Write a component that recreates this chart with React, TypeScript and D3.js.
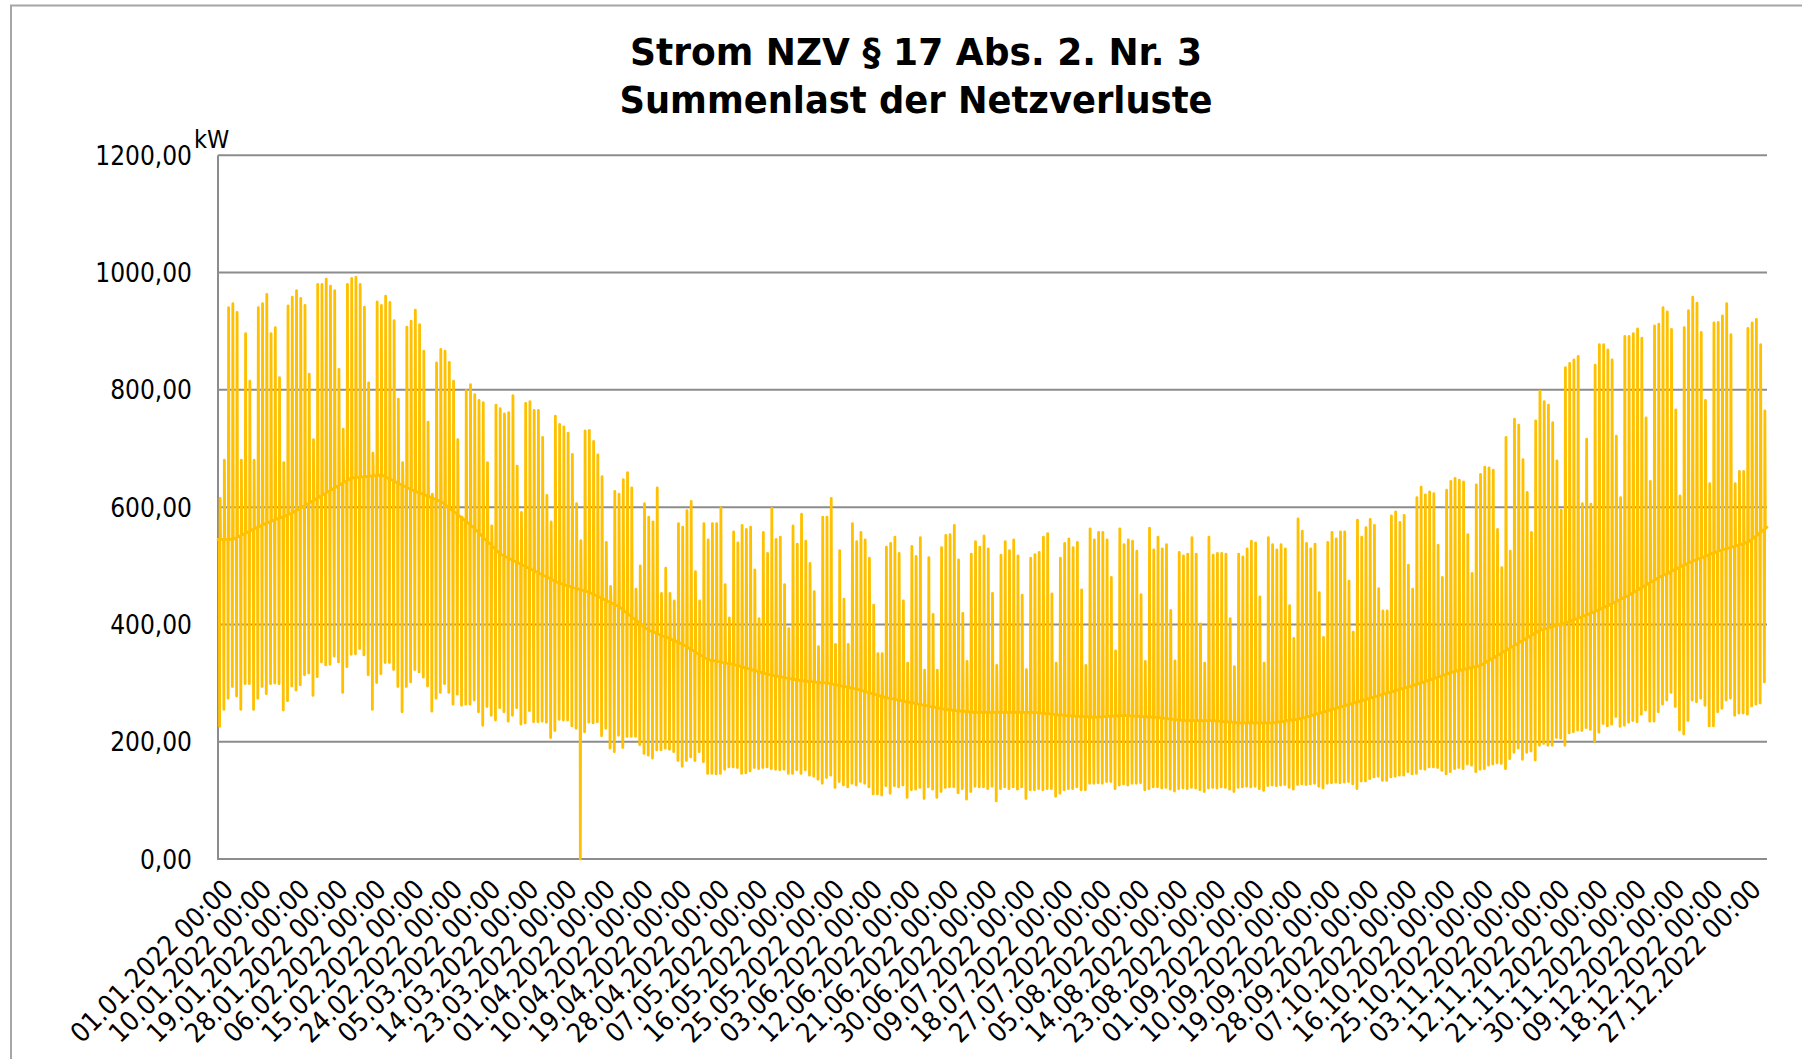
import React from "react";
import * as d3 from "d3";

const titleLines = ["Strom NZV § 17 Abs. 2. Nr. 3", "Summenlast der Netzverluste"];
const unitLabel = "kW";
const yTicks = [0, 200, 400, 600, 800, 1000, 1200];
const xTickLabels = [
  "01.01.2022 00:00", "10.01.2022 00:00", "19.01.2022 00:00", "28.01.2022 00:00",
  "06.02.2022 00:00", "15.02.2022 00:00", "24.02.2022 00:00", "05.03.2022 00:00",
  "14.03.2022 00:00", "23.03.2022 00:00", "01.04.2022 00:00", "10.04.2022 00:00",
  "19.04.2022 00:00", "28.04.2022 00:00", "07.05.2022 00:00", "16.05.2022 00:00",
  "25.05.2022 00:00", "03.06.2022 00:00", "12.06.2022 00:00", "21.06.2022 00:00",
  "30.06.2022 00:00", "09.07.2022 00:00", "18.07.2022 00:00", "27.07.2022 00:00",
  "05.08.2022 00:00", "14.08.2022 00:00", "23.08.2022 00:00", "01.09.2022 00:00",
  "10.09.2022 00:00", "19.09.2022 00:00", "28.09.2022 00:00", "07.10.2022 00:00",
  "16.10.2022 00:00", "25.10.2022 00:00", "03.11.2022 00:00", "12.11.2022 00:00",
  "21.11.2022 00:00", "30.11.2022 00:00", "09.12.2022 00:00", "18.12.2022 00:00",
  "27.12.2022 00:00",
];

// daily peak load in kW, one row per week (Sat .. Fri), starting Sat 01.01.2022
const dailyMax = [
  615, 680, 940, 947, 932, 680, 896,
  815, 680, 940, 947, 963, 896, 906,
  821, 676, 943, 958, 969, 956, 944,
  827, 715, 980, 980, 989, 977, 969,
  835, 733, 980, 990, 992, 980, 941,
  812, 692, 950, 944, 960, 949, 918,
  784, 676, 907, 917, 936, 911, 866,
  745, 622, 846, 869, 866, 847, 815,
  715, 583, 799, 809, 792, 782, 778,
  676, 568, 774, 768, 759, 761, 790,
  670, 591, 777, 780, 765, 765, 719,
  620, 575, 755, 741, 737, 726, 690,
  606, 543, 730, 731, 712, 689, 652,
  540, 465, 627, 622, 647, 659, 633,
  460, 500, 606, 583, 575, 633, 453,
  496, 453, 440, 572, 566, 594, 610,
  490, 440, 572, 544, 572, 572, 599,
  468, 411, 558, 539, 569, 562, 566,
  493, 410, 557, 521, 598, 545, 549,
  468, 393, 568, 537, 588, 542, 504,
  456, 362, 583, 583, 615, 366, 526,
  443, 366, 572, 541, 557, 544, 513,
  433, 350, 350, 532, 538, 549, 521,
  440, 334, 533, 516, 548, 322, 514,
  417, 322, 531, 552, 553, 569, 510,
  419, 337, 520, 541, 532, 551, 529,
  453, 330, 518, 541, 526, 544, 517,
  450, 323, 513, 519, 523, 549, 555,
  452, 334, 513, 538, 546, 531, 540,
  459, 330, 563, 544, 557, 557, 544,
  480, 355, 563, 536, 544, 542, 525,
  451, 337, 564, 527, 549, 529, 536,
  424, 338, 523, 517, 520, 548, 520,
  401, 334, 549, 518, 521, 521, 520,
  410, 328, 520, 515, 529, 542, 539,
  447, 334, 548, 536, 527, 536, 529,
  432, 376, 580, 559, 538, 529, 537,
  454, 378, 540, 557, 546, 558, 558,
  474, 387, 578, 549, 565, 579, 569,
  461, 423, 423, 585, 592, 574, 586,
  501, 460, 616, 634, 621, 626, 623,
  535, 480, 629, 644, 649, 646, 643,
  553, 487, 638, 656, 668, 667, 663,
  562, 497, 719, 525, 750, 740, 681,
  625, 557, 747, 798, 780, 774, 744,
  679, 595, 838, 845, 851, 857, 606,
  716, 605, 842, 877, 877, 868, 851,
  721, 616, 891, 891, 896, 904, 888,
  752, 644, 909, 912, 940, 933, 903,
  766, 619, 906, 935, 958, 948, 898,
  782, 640, 914, 915, 926, 947, 894,
  640, 661, 661, 905, 914, 920, 877,
  764,
];

// daily minimum load in kW (27.03. contains the 0 of the clock change)
const dailyMin = [
  226, 255, 274, 294, 278, 255, 299,
  299, 255, 274, 294, 282, 299, 300,
  299, 254, 270, 295, 288, 297, 314,
  317, 279, 311, 336, 331, 332, 346,
  336, 284, 328, 349, 350, 359, 348,
  314, 255, 301, 316, 335, 335, 323,
  294, 251, 294, 302, 323, 319, 310,
  295, 252, 274, 284, 299, 284, 264,
  281, 262, 264, 264, 271, 251, 228,
  260, 245, 237, 258, 251, 235, 245,
  258, 230, 232, 253, 234, 234, 235,
  233, 207, 219, 238, 237, 237, 227,
  223, 0, 217, 233, 232, 234, 210,
  223, 189, 183, 211, 190, 209, 209,
  209, 195, 180, 177, 172, 186, 186,
  189, 187, 183, 168, 158, 168, 174,
  168, 183, 166, 146, 146, 145, 146,
  153, 157, 157, 156, 146, 147, 150,
  156, 154, 156, 157, 154, 153, 152,
  153, 146, 146, 152, 146, 152, 143,
  141, 136, 129, 139, 143, 122, 132,
  126, 123, 129, 126, 132, 129, 123,
  111, 111, 109, 125, 112, 125, 123,
  126, 105, 118, 119, 122, 103, 123,
  119, 105, 115, 122, 123, 123, 113,
  120, 102, 115, 124, 123, 123, 120,
  124, 99, 120, 123, 120, 123, 119,
  123, 103, 118, 118, 120, 118, 120,
  120, 107, 112, 118, 120, 120, 123,
  118, 118, 129, 129, 130, 129, 132,
  132, 120, 126, 128, 126, 129, 129,
  130, 118, 120, 123, 123, 121, 122,
  119, 116, 120, 121, 120, 122, 121,
  118, 115, 121, 122, 121, 123, 122,
  119, 115, 122, 123, 124, 123, 124,
  120, 117, 125, 126, 125, 126, 127,
  122, 119, 127, 128, 127, 128, 129,
  124, 121, 129, 130, 131, 130, 131,
  132, 128, 120, 133, 133, 137, 140,
  141, 134, 134, 140, 141, 143, 143,
  149, 145, 146, 154, 153, 157, 157,
  156, 151, 145, 149, 154, 156, 154,
  162, 160, 149, 153, 154, 160, 162,
  164, 163, 154, 171, 182, 189, 170,
  182, 184, 169, 194, 197, 194, 194,
  207, 206, 194, 215, 217, 220, 219,
  224, 221, 201, 216, 231, 227, 230,
  243, 226, 228, 233, 236, 234, 247,
  254, 235, 235, 251, 264, 271, 284,
  260, 220, 213, 236, 271, 268, 274,
  262, 227, 227, 251, 257, 271, 274,
  245, 249, 249, 247, 261, 264, 266,
  302,
];

// night-time level per week (the thin band between the daily spikes)
const weeklyMid = [
  545, 570, 590, 620, 650, 655, 630, 610, 570, 520, 495, 470, 455, 430,
  390, 370, 340, 330, 315, 305, 300, 290, 275, 265, 255, 250, 250, 250,
  245, 242, 245, 242, 236, 236, 232, 232, 240, 255, 270, 285, 300, 318,
  330, 360, 390, 405, 425, 450, 480, 505, 525, 540, 580,
];

const FONT = "'DejaVu Sans Condensed', 'DejaVu Sans', sans-serif";
const LINE_COLOR = "#FFC000";
const GRID_COLOR = "#8c8c8c";

const plot = {left: 218, right: 1767, top: 155.3, bottom: 859};

export default function App() {
  const start = Date.UTC(2022, 0, 1);
  const dayMs = 864e5;
  const at = (d: number) => new Date(start + d * dayMs);

  const x = d3.scaleUtc()
    .domain([new Date(start), new Date(Date.UTC(2023, 0, 1))])
    .range([plot.left, plot.right]);
  const y = d3.scaleLinear().domain([0, 1200]).range([plot.bottom, plot.top]);

  const parse = d3.utcParse("%d.%m.%Y %H:%M");
  const fmt = d3.formatLocale({
    decimal: ",", thousands: ".", grouping: [3], currency: ["", " €"],
  }).format(".2f");

  const midAt = d3.scaleLinear<number>()
    .domain(weeklyMid.map((_, i) => i * 7 + 3.5))
    .range(weeklyMid)
    .clamp(true);

  // one spike per day: night level -> minimum -> peak -> night level
  const points: [number, number][] = [[0, midAt(0)]];
  dailyMax.forEach((mx, d) => {
    points.push([d + 0.3, midAt(d + 0.3)]);
    points.push([d + 0.38, dailyMin[d]]);
    points.push([d + 0.5, mx]);
    points.push([d + 0.6, midAt(d + 0.6)]);
  });
  points.push([365, midAt(365)]);

  const line = d3.line<[number, number]>()
    .x(p => x(at(p[0])))
    .y(p => y(p[1]));

  return (
    <svg width={1802} height={1059} style={{position: "absolute", left: 0, top: 0}}
         fontFamily={FONT}>
      <rect x={0} y={0} width={1802} height={1059} fill="white"/>
      <rect x={11} y={5.5} width={1900} height={1200} fill="white" stroke="#a6a6a6" strokeWidth={2}/>

      {titleLines.map((t, i) => (
        <text key={i} x={916} y={65 + i * 48} textAnchor="middle" fontSize={38}
              fontWeight="bold" textLength={i === 0 ? 572 : 593}
              lengthAdjust="spacingAndGlyphs">{t}</text>
      ))}

      {yTicks.map(v => (
        <g key={v}>
          <line x1={plot.left} x2={plot.right} y1={y(v)} y2={y(v)} stroke={GRID_COLOR} strokeWidth={2}/>
          <text x={192} y={y(v) + 9.5} textAnchor="end" fontSize={26}>{fmt(v)}</text>
        </g>
      ))}
      <line x1={plot.left} x2={plot.left} y1={plot.top} y2={plot.bottom + 1} stroke={GRID_COLOR} strokeWidth={2}/>
      <text x={194} y={148} fontSize={25}>{unitLabel}</text>

      <path d={line(points) ?? ""} fill="none" stroke={LINE_COLOR} strokeWidth={2.8}
            strokeLinejoin="round" strokeLinecap="round"/>

      {xTickLabels.map(lbl => {
        const tx = x(parse(lbl) as Date) + 17;
        return (
          <text key={lbl} transform={`translate(${tx},891) rotate(-45)`} textAnchor="end"
                fontSize={27}>{lbl}</text>
        );
      })}
    </svg>
  );
}
